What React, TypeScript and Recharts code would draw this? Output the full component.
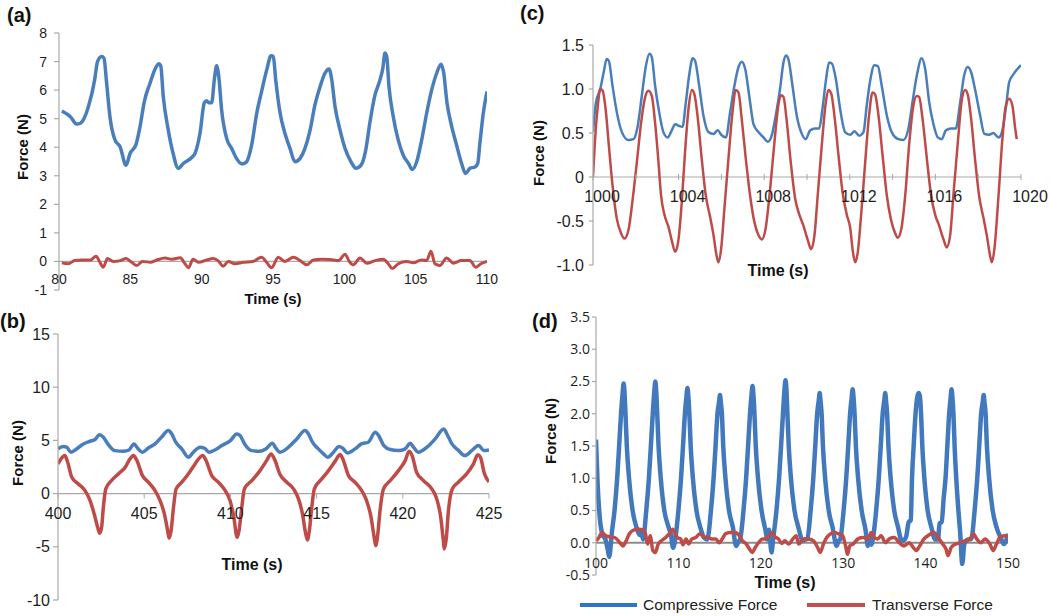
import React from "react";
import { LineChart, Line, XAxis, YAxis, ReferenceLine } from "recharts";

type Pt = [number, number];

// (a) time 80–110 s
const A_X_TICKS = [80, 85, 90, 95, 100, 105, 110];
const A_Y_TICKS = [-1, 0, 1, 2, 3, 4, 5, 6, 7, 8];
const A_COMP: Pt[] = [
  [80.2, 5.27], [80.8, 5.07], [81.24, 4.81], [81.5, 4.84], [82.06, 5.42], [82.5, 6.36], [82.7, 7.0], [82.99, 7.18],
  [83.15, 7.12], [83.34, 6.24], [83.57, 5.07], [83.93, 4.25], [84.28, 4.02], [84.7, 3.37], [84.98, 3.78], [85.4, 4.1],
  [85.68, 4.72], [85.98, 5.6], [86.38, 6.24], [86.73, 6.73], [87.0, 6.92], [87.13, 6.85], [87.31, 5.77], [87.66, 4.6],
  [88.0, 3.78], [88.36, 3.26], [88.71, 3.43], [89.3, 3.64], [89.53, 3.78], [89.88, 4.48], [90.19, 5.56], [90.35, 5.63],
  [90.5, 5.56], [90.7, 5.56], [90.9, 6.42], [91.05, 6.85], [91.2, 6.47], [91.4, 5.3], [91.75, 4.31], [92.1, 3.96],
  [92.45, 3.6], [92.85, 3.41], [93.15, 3.49], [93.5, 4.07], [93.86, 5.19], [94.2, 5.95], [94.56, 6.71], [94.86, 7.2],
  [95.02, 7.18], [95.19, 6.36], [95.5, 5.19], [95.84, 4.48], [96.19, 3.96], [96.54, 3.49], [96.9, 3.61], [97.24, 3.96],
  [97.6, 4.6], [97.94, 5.48], [98.3, 6.12], [98.64, 6.59], [98.93, 6.74], [99.1, 6.42], [99.35, 5.42], [99.7, 4.6],
  [100.05, 3.96], [100.47, 3.49], [100.82, 3.26], [101.17, 3.37], [101.5, 3.9], [101.8, 4.89], [102.15, 5.83],
  [102.5, 6.36], [102.7, 6.77], [102.85, 7.3], [102.97, 7.18], [103.13, 6.12], [103.43, 5.07], [103.78, 4.25],
  [104.13, 3.72], [104.5, 3.43], [104.77, 3.22], [105.07, 3.49], [105.42, 4.25], [105.77, 5.19], [106.12, 6.0],
  [106.47, 6.59], [106.78, 6.91], [106.95, 6.65], [107.2, 5.54], [107.5, 4.78], [107.87, 4.07], [108.22, 3.43],
  [108.5, 3.08], [108.8, 3.26], [109.16, 3.31], [109.35, 3.43], [109.5, 4.13], [109.74, 5.19], [110, 5.95],
];
const A_TRANS: Pt[] = [
  [80.2, -0.05], [80.65, -0.08], [81.1, 0.03], [81.6, 0.05], [82.2, 0.05], [82.6, 0.18], [82.87, -0.03], [83.1, -0.2],
  [83.4, 0.1], [83.8, 0.0], [84.3, 0.03], [84.7, 0.1], [85.1, -0.03], [85.45, -0.14], [85.85, 0.0], [86.4, -0.03],
  [86.85, 0.05], [87.43, 0.12], [87.9, 0.08], [88.5, 0.13], [88.83, -0.08], [89.07, -0.22], [89.4, 0.08], [89.77, -0.03],
  [90.35, 0.05], [90.8, 0.1], [91.2, 0.0], [91.5, -0.17], [91.87, 0.0], [92.33, -0.08], [92.92, -0.03], [93.6, 0.0],
  [94.2, 0.15], [94.55, -0.03], [94.9, -0.22], [95.37, 0.15], [95.84, 0.0], [96.43, 0.15], [96.9, 0.03], [97.36, -0.12],
  [97.83, 0.05], [98.4, 0.08], [99.0, 0.07], [99.6, 0.03], [100.05, 0.25], [100.35, 0.0], [100.63, -0.12], [101.1, 0.12],
  [101.57, -0.06], [102.15, 0.03], [102.73, 0.08], [103.08, -0.08], [103.36, -0.25], [103.78, -0.08], [104.37, 0.0],
  [104.84, -0.05], [105.4, 0.05], [105.77, 0.03], [106.07, 0.36], [106.35, -0.08], [106.7, -0.14], [107.17, 0.12],
  [107.64, -0.06], [108.2, 0.03], [108.8, 0.03], [109.2, -0.2], [109.57, -0.08], [110, 0.0],
];

// (b) time 400–425 s
const B_X_TICKS = [400, 405, 410, 415, 420, 425];
const B_Y_TICKS = [-10, -5, 0, 5, 10, 15];
const B_COMP: Pt[] = [
  [400, 4.2], [400.3, 4.42], [400.5, 4.36], [400.75, 3.89], [401.08, 4.2], [401.47, 4.67], [401.86, 4.92], [402.15, 5.08],
  [402.4, 5.52], [402.63, 5.3], [402.92, 4.6], [403.3, 4.04], [403.8, 3.98], [404.12, 4.1], [404.41, 4.67], [404.62, 4.26],
  [404.9, 3.89], [405.24, 4.29], [405.63, 4.67], [406.0, 5.3], [406.4, 5.92], [406.6, 5.6], [406.83, 4.83], [407.18, 4.2],
  [407.56, 3.42], [407.85, 3.89], [408.24, 4.36], [408.5, 4.26], [408.76, 3.89], [409.1, 4.1], [409.5, 4.51], [410.0, 4.98],
  [410.37, 5.6], [410.56, 5.45], [410.85, 4.6], [411.24, 4.04], [411.7, 3.98], [412.05, 4.2], [412.44, 4.73], [412.63, 4.29],
  [412.88, 3.89], [413.37, 4.36], [413.85, 5.14], [414.33, 5.92], [414.53, 5.6], [414.76, 4.83], [415.1, 4.2], [415.4, 3.73],
  [415.65, 3.42], [415.98, 3.89], [416.3, 4.42], [416.5, 4.29], [416.8, 3.82], [417.23, 4.2], [417.6, 4.67], [418.0, 4.83],
  [418.4, 5.77], [418.6, 5.45], [418.9, 4.51], [419.27, 4.14], [419.75, 4.04], [420.14, 4.2], [420.43, 4.73], [420.62, 4.36],
  [420.9, 3.89], [421.4, 4.36], [421.88, 5.14], [422.37, 6.08], [422.56, 5.6], [422.85, 4.67], [423.24, 4.04], [423.6, 3.57],
  [424.0, 4.04], [424.4, 4.51], [424.7, 4.04], [425, 4.1],
];
const B_TRANS: Pt[] = [
  [400, 2.79], [400.25, 3.42], [400.4, 3.57], [400.56, 2.95], [400.8, 1.54], [401.18, 0.91], [401.57, 0.28], [401.86, -0.66],
  [402.1, -1.91], [402.3, -3.17], [402.42, -3.73], [402.53, -3.17], [402.63, -1.29], [402.77, 0.44], [403.1, 1.22],
  [403.5, 1.85], [403.9, 2.48], [404.18, 3.26], [404.37, 3.57], [404.56, 3.17], [404.9, 1.69], [405.24, 1.07], [405.63, 0.28],
  [405.92, -0.66], [406.17, -1.91], [406.36, -3.48], [406.44, -4.17], [406.56, -3.48], [406.7, -1.29], [406.85, 0.44],
  [407.18, 1.07], [407.56, 1.85], [407.95, 2.79], [408.24, 3.42], [408.4, 3.57], [408.57, 3.17], [408.92, 1.69],
  [409.3, 1.07], [409.7, 0.28], [409.98, -0.66], [410.2, -2.23], [410.39, -4.11], [410.5, -3.48], [410.66, -1.29],
  [410.81, 0.44], [411.24, 1.22], [411.72, 2.16], [412.1, 3.1], [412.36, 3.73], [412.55, 3.26], [412.88, 1.79],
  [413.27, 1.07], [413.66, 0.44], [413.95, -0.5], [414.18, -1.91], [414.37, -3.79], [414.47, -4.36], [414.58, -3.48],
  [414.72, -1.29], [414.87, 0.44], [415.3, 1.38], [415.69, 2.16], [416.1, 3.1], [416.36, 3.67], [416.52, 3.26],
  [416.85, 1.69], [417.23, 1.07], [417.62, 0.28], [417.9, -0.66], [418.16, -2.23], [418.34, -4.11], [418.43, -4.89],
  [418.55, -3.79], [418.68, -1.6], [418.88, 0.44], [419.27, 1.22], [419.75, 2.16], [420.14, 3.1], [420.37, 3.98],
  [420.56, 3.48], [420.8, 2.0], [421.2, 1.22], [421.68, 0.44], [421.97, -0.5], [422.2, -2.23], [422.35, -4.42],
  [422.4, -5.2], [422.53, -4.11], [422.63, -1.91], [422.87, 0.44], [423.22, 1.07], [423.7, 1.85], [424.1, 2.79],
  [424.35, 3.64], [424.5, 3.42], [424.74, 1.85], [425, 1.1],
];

// (c) time 1000–1020 s
const C_X_TICKS = [1000, 1002, 1004, 1006, 1008, 1010, 1012, 1014, 1016, 1018, 1020];
const C_Y_TICKS = [-1, -0.5, 0, 0.5, 1, 1.5];
const C_COMP: Pt[] = [
  [1000, 0.51], [1000.14, 0.85], [1000.34, 1.0], [1000.5, 1.19], [1000.64, 1.34], [1000.74, 1.32], [1000.91, 1.04],
  [1001.11, 0.74], [1001.35, 0.51], [1001.66, 0.42], [1001.89, 0.43], [1002.09, 0.58], [1002.28, 0.92], [1002.47, 1.26],
  [1002.64, 1.4], [1002.75, 1.36], [1002.9, 1.04], [1003.09, 0.74], [1003.29, 0.51], [1003.49, 0.45], [1003.68, 0.53],
  [1003.84, 0.6], [1004.02, 0.58], [1004.18, 0.57], [1004.34, 0.85], [1004.49, 1.15], [1004.66, 1.35], [1004.77, 1.32],
  [1004.96, 1.04], [1005.16, 0.7], [1005.4, 0.51], [1005.63, 0.49], [1005.83, 0.53], [1005.99, 0.48], [1006.21, 0.45],
  [1006.41, 0.74], [1006.61, 1.04], [1006.8, 1.25], [1006.95, 1.31], [1007.11, 1.23], [1007.34, 0.85], [1007.5, 0.6],
  [1007.73, 0.51], [1007.97, 0.45], [1008.17, 0.4], [1008.35, 0.47], [1008.54, 0.7], [1008.74, 1.0], [1008.9, 1.3],
  [1009.02, 1.38], [1009.13, 1.34], [1009.32, 1.04], [1009.52, 0.7], [1009.76, 0.49], [1009.94, 0.43], [1010.15, 0.53],
  [1010.38, 0.55], [1010.57, 0.55], [1010.72, 0.77], [1010.89, 1.11], [1011.03, 1.3], [1011.16, 1.29], [1011.35, 1.11],
  [1011.55, 0.77], [1011.78, 0.51], [1012.02, 0.48], [1012.22, 0.52], [1012.44, 0.47], [1012.64, 0.51], [1012.79, 0.81],
  [1012.95, 1.09], [1013.15, 1.27], [1013.31, 1.26], [1013.49, 1.04], [1013.73, 0.7], [1013.96, 0.51], [1014.27, 0.43],
  [1014.51, 0.42], [1014.74, 0.55], [1014.93, 0.85], [1015.13, 1.15], [1015.36, 1.35], [1015.52, 1.23], [1015.71, 0.85],
  [1015.91, 0.6], [1016.11, 0.45], [1016.3, 0.43], [1016.49, 0.53], [1016.73, 0.55], [1016.95, 0.55], [1017.16, 0.85],
  [1017.34, 1.15], [1017.51, 1.25], [1017.67, 1.19], [1017.85, 1.0], [1018.09, 0.7], [1018.29, 0.49], [1018.51, 0.48],
  [1018.71, 0.5], [1018.95, 0.45], [1019.1, 0.5], [1019.3, 0.8], [1019.45, 1.08], [1019.65, 1.17], [1020, 1.27],
];
const C_TRANS: Pt[] = [
  [1000, 0.0], [1000.08, 0.36], [1000.21, 0.77], [1000.34, 1.0], [1000.45, 0.98], [1000.59, 0.77], [1000.74, 0.36],
  [1000.91, -0.09], [1001.11, -0.47], [1001.31, -0.64], [1001.47, -0.7], [1001.66, -0.6], [1001.84, -0.28], [1002.05, 0.17],
  [1002.25, 0.62], [1002.44, 0.91], [1002.59, 0.98], [1002.75, 0.92], [1002.9, 0.62], [1003.06, 0.17], [1003.18, -0.21],
  [1003.34, -0.43], [1003.53, -0.57], [1003.68, -0.72], [1003.84, -0.85], [1003.99, -0.72], [1004.15, -0.28], [1004.3, 0.28],
  [1004.46, 0.77], [1004.62, 0.99], [1004.74, 0.94], [1004.9, 0.66], [1005.08, 0.21], [1005.27, -0.21], [1005.47, -0.45],
  [1005.63, -0.66], [1005.78, -0.9], [1005.86, -0.97], [1005.99, -0.81], [1006.14, -0.36], [1006.33, 0.21], [1006.52, 0.74],
  [1006.67, 0.99], [1006.8, 0.96], [1006.95, 0.66], [1007.14, 0.21], [1007.34, -0.21], [1007.54, -0.51], [1007.73, -0.66],
  [1007.89, -0.71], [1008.07, -0.58], [1008.28, -0.13], [1008.48, 0.4], [1008.67, 0.83], [1008.79, 0.93], [1008.9, 0.91],
  [1009.06, 0.62], [1009.24, 0.17], [1009.45, -0.25], [1009.63, -0.42], [1009.83, -0.55], [1010.04, -0.72], [1010.19, -0.82],
  [1010.35, -0.66], [1010.5, -0.21], [1010.69, 0.36], [1010.88, 0.85], [1011.0, 0.99], [1011.13, 0.95], [1011.28, 0.7],
  [1011.47, 0.25], [1011.66, -0.17], [1011.86, -0.43], [1012.02, -0.58], [1012.14, -0.84], [1012.25, -0.97], [1012.37, -0.86],
  [1012.53, -0.43], [1012.72, 0.17], [1012.9, 0.7], [1013.06, 0.96], [1013.18, 0.94], [1013.34, 0.7], [1013.53, 0.25],
  [1013.73, -0.21], [1013.93, -0.49], [1014.12, -0.64], [1014.24, -0.69], [1014.4, -0.6], [1014.59, -0.21], [1014.77, 0.36],
  [1014.97, 0.81], [1015.13, 0.92], [1015.24, 0.91], [1015.4, 0.66], [1015.6, 0.21], [1015.8, -0.21], [1015.99, -0.43],
  [1016.17, -0.55], [1016.38, -0.71], [1016.53, -0.8], [1016.69, -0.66], [1016.84, -0.21], [1017.05, 0.4], [1017.23, 0.87],
  [1017.39, 0.99], [1017.51, 0.94], [1017.67, 0.66], [1017.85, 0.21], [1018.04, -0.21], [1018.25, -0.47], [1018.4, -0.66],
  [1018.56, -0.9], [1018.64, -0.97], [1018.76, -0.81], [1018.95, -0.21], [1019.13, 0.43], [1019.29, 0.81], [1019.45, 0.89],
  [1019.6, 0.81], [1019.73, 0.55], [1019.8, 0.43],
];

// (d) time 100–150 s
const D_X_TICKS = [100, 110, 120, 130, 140, 150];
const D_Y_TICKS = [-0.5, 0, 0.5, 1, 1.5, 2, 2.5, 3, 3.5];
const D_COMP: Pt[] = [
  [100, 1.6], [100.2, 0.9], [100.45, 0.4], [100.8, 0.12], [101.15, 0.05], [101.45, -0.12], [101.6, -0.22], [101.8, -0.02],
  [101.85, 0.06], [102.25, 0.5], [102.57, 1.0], [102.81, 1.5], [103.04, 2.0], [103.23, 2.32], [103.35, 2.47], [103.45, 2.35],
  [103.58, 2.0], [103.74, 1.5], [104.01, 1.0], [104.44, 0.5], [104.91, 0.24], [105.3, 0.12], [105.5, 0.18], [105.7, 0.05],
  [106.1, 0.5], [106.42, 1.0], [106.66, 1.5], [106.89, 2.0], [107.08, 2.35], [107.2, 2.5], [107.3, 2.37], [107.43, 2.0],
  [107.59, 1.5], [107.86, 1.0], [108.29, 0.5], [108.76, 0.26], [109.1, 0.12], [109.35, -0.08], [109.6, 0.04],
  [110.0, 0.5], [110.32, 1.0], [110.56, 1.5], [110.79, 2.0], [110.98, 2.27], [111.1, 2.4], [111.2, 2.28], [111.33, 2.0],
  [111.49, 1.5], [111.76, 1.0], [112.19, 0.5], [112.66, 0.24], [113.1, 0.08], [113.5, 0.05],
  [113.95, 0.5], [114.27, 1.0], [114.51, 1.5], [114.74, 2.0], [114.93, 2.18], [115.05, 2.29], [115.15, 2.17], [115.28, 2.0],
  [115.44, 1.5], [115.71, 1.0], [116.14, 0.5], [116.61, 0.24], [117.0, -0.05], [117.3, 0.02], [117.5, 0.06],
  [117.9, 0.5], [118.22, 1.0], [118.46, 1.5], [118.69, 2.0], [118.88, 2.3], [119.0, 2.43], [119.1, 2.3], [119.23, 2.0],
  [119.39, 1.5], [119.66, 1.0], [120.09, 0.5], [120.56, 0.2], [120.8, 0.05], [121.0, 0.2], [121.3, -0.15], [121.5, 0.06],
  [121.9, 0.5], [122.22, 1.0], [122.46, 1.5], [122.69, 2.0], [122.88, 2.38], [123.0, 2.52], [123.1, 2.4], [123.23, 2.0],
  [123.39, 1.5], [123.66, 1.0], [124.09, 0.5], [124.56, 0.24], [125.1, 0.03], [125.4, 0.05], [125.65, 0.06],
  [126.05, 0.5], [126.37, 1.0], [126.61, 1.5], [126.84, 2.0], [127.03, 2.2], [127.15, 2.32], [127.25, 2.2], [127.38, 2.0],
  [127.54, 1.5], [127.81, 1.0], [128.24, 0.5], [128.71, 0.24], [129.2, -0.05], [129.45, 0.03], [129.65, 0.06],
  [130.05, 0.5], [130.37, 1.0], [130.61, 1.5], [130.84, 2.0], [131.03, 2.25], [131.15, 2.38], [131.25, 2.26], [131.38, 2.0],
  [131.54, 1.5], [131.81, 1.0], [132.24, 0.5], [132.71, 0.2], [133.0, -0.05], [133.2, 0.08], [133.4, -0.03], [133.6, 0.06],
  [134.0, 0.5], [134.32, 1.0], [134.56, 1.5], [134.79, 2.0], [134.98, 2.2], [135.1, 2.32], [135.2, 2.2], [135.33, 2.0],
  [135.49, 1.5], [135.76, 1.0], [136.19, 0.5], [136.66, 0.24], [137.1, 0.03], [137.45, 0.05],
  [137.65, 0.1], [137.95, 0.32], [138.2, 0.35], [138.35, 1.0], [138.55, 1.5], [138.78, 2.0], [138.98, 2.25], [139.15, 2.32],
  [139.3, 2.28], [139.45, 2.0], [139.6, 1.5], [139.85, 1.0], [140.25, 0.5], [140.7, 0.24], [141.15, 0.05],
  [141.5, 0.05], [141.7, 0.3], [141.95, 0.32], [142.2, 0.7], [142.42, 1.0], [142.64, 1.5], [142.86, 2.0], [143.04, 2.25],
  [143.15, 2.38], [143.25, 2.26], [143.38, 2.0], [143.52, 1.5], [143.72, 1.0], [143.98, 0.5], [144.2, 0.15], [144.45, -0.33],
  [144.7, -0.02], [145.1, 0.05], [145.55, 0.06],
  [145.95, 0.5], [146.27, 1.0], [146.51, 1.5], [146.74, 2.0], [146.93, 2.18], [147.05, 2.29], [147.15, 2.17], [147.28, 2.0],
  [147.44, 1.5], [147.71, 1.0], [148.14, 0.5], [148.61, 0.24], [149.1, 0.08], [149.5, -0.02], [150, 0.14],
];
const D_TRANS: Pt[] = [
  [100, 0.03], [100.35, 0.08], [100.74, 0.16], [101.13, 0.11], [101.7, 0.09], [102.3, 0.08], [102.9, 0.0], [103.27, -0.05],
  [103.66, 0.03], [104.05, 0.14], [104.63, 0.2], [105.2, 0.21], [105.72, 0.2], [106.0, 0.14], [106.26, -0.02], [106.58, 0.11],
  [106.9, -0.12], [107.2, -0.15], [107.55, -0.02], [107.94, 0.03], [108.44, 0.08], [108.9, 0.14], [109.3, 0.21], [109.6, 0.14],
  [109.88, 0.08], [110.27, 0.06], [110.54, -0.03], [110.93, 0.06], [111.25, -0.02], [111.63, 0.06], [112.1, 0.08],
  [112.6, 0.14], [113.1, 0.09], [113.58, 0.08], [114.05, 0.06], [114.55, 0.06], [114.94, 0.0], [115.33, 0.06], [115.72, 0.14],
  [116.23, 0.16], [116.89, 0.16], [117.4, 0.11], [117.78, 0.03], [118.25, -0.02], [118.64, -0.1], [118.95, -0.15],
  [119.34, -0.07], [119.73, 0.0], [120.2, 0.06], [120.58, 0.06], [120.97, 0.11], [121.36, 0.15], [121.75, 0.09],
  [122.14, 0.06], [122.53, -0.01], [122.92, 0.03], [123.38, -0.02], [123.89, 0.06], [124.3, 0.11], [124.6, -0.02],
  [125.2, 0.06], [125.8, 0.06], [126.4, 0.03], [126.88, -0.07], [127.2, -0.15], [127.6, -0.02], [128.0, 0.08],
  [128.48, 0.14], [128.88, 0.16], [129.4, 0.14], [129.92, 0.11], [130.32, -0.07], [130.52, -0.18], [130.8, -0.05],
  [131.2, -0.02], [131.8, 0.06], [132.4, 0.08], [133.0, 0.06], [133.4, 0.16], [133.8, 0.08], [134.2, 0.06], [134.6, 0.11],
  [135.12, 0.0], [135.6, 0.06], [136.2, 0.08], [136.8, 0.0], [137.4, -0.05], [138.0, 0.0], [138.48, -0.07], [138.88, -0.12],
  [139.28, -0.05], [139.8, 0.06], [140.4, 0.12], [141.0, 0.16], [141.52, 0.08], [142.08, -0.02], [142.48, -0.1],
  [142.72, -0.2], [143.12, -0.07], [143.68, -0.02], [144.2, 0.0], [144.8, 0.03], [145.4, 0.06], [145.8, 0.14], [146.2, 0.06],
  [146.72, 0.0], [147.2, 0.06], [147.8, -0.02], [148.2, -0.12], [148.6, -0.02], [149.0, 0.08], [149.6, 0.11], [150, 0.1],
];

const BLUE = "#4a7ebb";
const RED = "#be4b48";
const AXIS = "#a9a9a9";
const SANS = "'Liberation Sans', Arial, sans-serif";

const PADL = 70;
const PADT = 15;
const PADR = 40;
const PADB = 40;
const YW = 60;

const toPts = (arr: Pt[]) => arr.map(([t, v]) => ({ t, v }));

interface Series {
  data: Pt[];
  color: string;
  width: number;
}

interface PanelProps {
  box: { l: number; t: number; r: number; b: number };
  xDomain: [number, number];
  yDomain: [number, number];
  xTicks: number[];
  yTicks: number[];
  xFmt?: (v: number) => string;
  yFmt?: (v: number) => string;
  series: Series[];
  fontSize: number;
  fontFamily?: string;
  labelDy: number;
  labelDx?: number;
  xTickMark?: [number, number];
  yTickSize: number;
  yTickMargin: number;
  zeroColor?: string;
  zeroWidth?: number;
}

function Panel(p: PanelProps) {
  const plotW = p.box.r - p.box.l;
  const plotH = p.box.b - p.box.t;
  const [yMin, yMax] = p.yDomain;
  const zeroY = PADT + (yMax / (yMax - yMin)) * plotH;
  const family = p.fontFamily ?? SANS;

  const xTick = (props: any) => {
    const { x, payload } = props;
    const label = p.xFmt ? p.xFmt(payload.value) : String(payload.value);
    return (
      <g>
        {p.xTickMark && (
          <line x1={x} x2={x} y1={zeroY + p.xTickMark[0]} y2={zeroY + p.xTickMark[1]} stroke={AXIS} strokeWidth={1} />
        )}
        {label && (
          <text
            x={x + (p.labelDx ?? 0)}
            y={zeroY + p.labelDy}
            textAnchor="middle"
            fontSize={p.fontSize}
            fontFamily={family}
            fill="#1e1e1e"
          >
            {label}
          </text>
        )}
      </g>
    );
  };

  return (
    <div style={{ position: "absolute", left: p.box.l - PADL, top: p.box.t - PADT }}>
      <LineChart
        width={plotW + PADL + PADR}
        height={plotH + PADT + PADB}
        margin={{ top: PADT, right: PADR, bottom: PADB - 30, left: PADL - YW }}
      >
        <XAxis
          dataKey="t"
          type="number"
          domain={p.xDomain}
          ticks={p.xTicks}
          interval={0}
          allowDataOverflow
          axisLine={false}
          tickLine={false}
          height={30}
          tick={xTick}
        />
        <YAxis
          type="number"
          domain={p.yDomain}
          ticks={p.yTicks}
          interval={0}
          allowDataOverflow
          width={YW}
          tickFormatter={p.yFmt}
          axisLine={{ stroke: AXIS, strokeWidth: 1.2 }}
          tickLine={{ stroke: AXIS, strokeWidth: 1.2 }}
          tickSize={p.yTickSize}
          tickMargin={p.yTickMargin}
          tick={{ fontSize: p.fontSize, fill: "#1e1e1e", fontFamily: family }}
        />
        <ReferenceLine y={0} stroke={p.zeroColor ?? AXIS} strokeWidth={p.zeroWidth ?? 1.2} />
        {p.series.map((s, i) => (
          <Line
            key={i}
            data={toPts(s.data)}
            dataKey="v"
            type="monotone"
            stroke={s.color}
            strokeWidth={s.width}
            dot={false}
            activeDot={false}
            isAnimationActive={false}
          />
        ))}
      </LineChart>
    </div>
  );
}

function Title({ x, y, text, size = 15 }: { x: number; y: number; text: string; size?: number }) {
  return (
    <text x={x} y={y} textAnchor="middle" fontSize={size} fontWeight="bold" fontFamily={SANS} fill="#111">
      {text}
    </text>
  );
}

function YTitle({ x, y, text }: { x: number; y: number; text: string }) {
  return (
    <text
      x={x}
      y={y}
      transform={`rotate(-90 ${x} ${y})`}
      textAnchor="middle"
      dominantBaseline="central"
      fontSize={15}
      fontWeight="bold"
      fontFamily={SANS}
      fill="#111"
    >
      {text}
    </text>
  );
}

export default function App() {
  return (
    <div
      style={{
        position: "absolute",
        left: 0,
        top: 0,
        width: 1050,
        height: 616,
        overflow: "hidden",
        background: "#fff",
        fontFamily: SANS,
      }}
    >
      <Panel
        box={{ l: 59, t: 33, r: 487, b: 290 }}
        xDomain={[80, 110]}
        yDomain={[-1, 8]}
        xTicks={A_X_TICKS}
        yTicks={A_Y_TICKS}
        series={[
          { data: A_COMP, color: BLUE, width: 3.5 },
          { data: A_TRANS, color: RED, width: 3 },
        ]}
        fontSize={14}
        labelDy={23}
        yTickSize={5}
        yTickMargin={7}
      />
      <Panel
        box={{ l: 58, t: 334, r: 489, b: 600 }}
        xDomain={[400, 425]}
        yDomain={[-10, 15]}
        xTicks={B_X_TICKS}
        yTicks={B_Y_TICKS}
        series={[
          { data: B_COMP, color: BLUE, width: 3.5 },
          { data: B_TRANS, color: RED, width: 3.5 },
        ]}
        fontSize={16}
        labelDy={25}
        xTickMark={[0, 5]}
        yTickSize={5}
        yTickMargin={3}
      />
      <Panel
        box={{ l: 593, t: 45, r: 1021, b: 265 }}
        xDomain={[1000, 1020]}
        yDomain={[-1, 1.5]}
        xTicks={C_X_TICKS}
        yTicks={C_Y_TICKS}
        xFmt={(v) => ((v - 1000) % 4 === 0 ? String(v) : "")}
        yFmt={(v) => (v === 0 ? "0" : v.toFixed(1))}
        series={[
          { data: C_COMP, color: BLUE, width: 2.5 },
          { data: C_TRANS, color: RED, width: 2.5 },
        ]}
        fontSize={16}
        labelDy={25}
        labelDx={9}
        xTickMark={[-3, 3]}
        yTickSize={4}
        yTickMargin={5}
      />
      <Panel
        box={{ l: 596, t: 317, r: 1008, b: 575 }}
        xDomain={[100, 150]}
        yDomain={[-0.5, 3.5]}
        xTicks={D_X_TICKS}
        yTicks={D_Y_TICKS}
        yFmt={(v) => v.toFixed(1)}
        series={[
          { data: D_COMP, color: "#4279bd", width: 4.5 },
          { data: D_TRANS, color: RED, width: 3.5 },
        ]}
        fontSize={14}
        fontFamily="'Open Sans', 'Liberation Sans', sans-serif"
        labelDy={25}
        yTickSize={4}
        yTickMargin={2}
        zeroColor="#8c8c8c"
        zeroWidth={2}
      />
      <svg width={1050} height={616} style={{ position: "absolute", left: 0, top: 0, pointerEvents: "none" }}>
        <text x={7} y={22} fontSize={20} fontWeight="bold" fontFamily={SANS} fill="#111">(a)</text>
        <text x={0} y={328} fontSize={20} fontWeight="bold" fontFamily={SANS} fill="#111">(b)</text>
        <text x={520} y={20} fontSize={20} fontWeight="bold" fontFamily={SANS} fill="#111">(c)</text>
        <text x={532} y={328} fontSize={20} fontWeight="bold" fontFamily={SANS} fill="#111">(d)</text>

        <YTitle x={22} y={147} text="Force (N)" />
        <YTitle x={17} y={453} text="Force (N)" />
        <YTitle x={538} y={153} text="Force (N)" />
        <YTitle x={550} y={431} text="Force (N)" />

        <Title x={273} y={304} text="Time (s)" />
        <Title x={252} y={570} text="Time (s)" size={16} />
        <Title x={778} y={276} text="Time (s)" size={16} />
        <Title x={785} y={588} text="Time (s)" size={16} />

        <line x1={580} x2={637} y1={605} y2={605} stroke="#2d74c4" strokeWidth={4} />
        <text x={643} y={610} fontSize={15.5} fontFamily={SANS} fill="#222">Compressive Force</text>
        <line x1={807} x2={865} y1={605} y2={605} stroke="#c0504d" strokeWidth={4} />
        <text x={872} y={610} fontSize={15.5} fontFamily={SANS} fill="#222">Transverse Force</text>
      </svg>
    </div>
  );
}
